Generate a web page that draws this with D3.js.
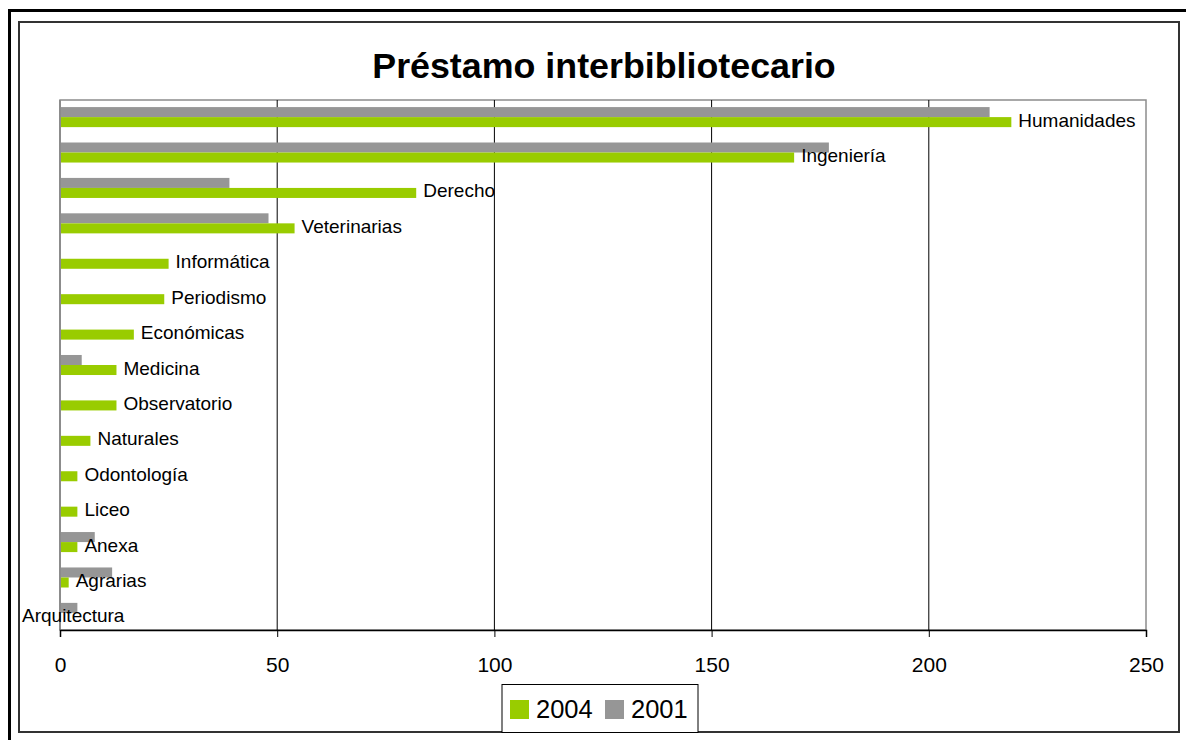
<!DOCTYPE html>
<html>
<head>
<meta charset="utf-8">
<script src="https://cdn.jsdelivr.net/npm/d3@7"></script>
<style>
  body { margin: 0; background: #fff; }
  svg text { font-family: "Liberation Sans", Arial, sans-serif; }
</style>
</head>
<body>
<div id="chart"></div>
<script>
// values
const categories = ["Humanidades", "Ingeniería", "Derecho", "Veterinarias", "Informática", "Periodismo",
  "Económicas", "Medicina", "Observatorio", "Naturales", "Odontología", "Liceo", "Anexa", "Agrarias", "Arquitectura"];
const values2004 = [219, 169, 82, 54, 25, 24, 17, 13, 13, 7, 4, 4, 4, 2, 0];
const values2001 = [214, 177, 39, 48, 0, 0, 0, 5, 0, 0, 0, 0, 8, 12, 4];
const xTicks = [0, 50, 100, 150, 200, 250];
const seriesNames = ["2004", "2001"];

const W = 1186, H = 740;
var margin = {top: 100, right: 40, bottom: 110, left: 60},
    width = W - margin.left - margin.right,
    height = H - margin.top - margin.bottom;

var svg = d3.select("#chart").append("svg")
  .attr("width", W)
  .attr("height", H);

// outer frames
svg.append("rect").attr("x", 9.5).attr("y", 10.5).attr("width", 1190).attr("height", 740)
  .attr("fill", "none").attr("stroke", "#000").attr("stroke-width", 3);
svg.append("rect").attr("x", 19).attr("y", 22).attr("width", 1160).attr("height", 710)
  .attr("fill", "none").attr("stroke", "#333").attr("stroke-width", 2);

// title
svg.append("text")
  .attr("x", 604)
  .attr("y", 77.5)
  .attr("text-anchor", "middle")
  .style("font-size", "35.8px")
  .style("font-weight", "bold")
  .text("Préstamo interbibliotecario");

var g = svg.append("g")
  .attr("transform", "translate(" + margin.left + "," + margin.top + ")");

var x = d3.scaleLinear().domain([0, 250]).range([0, width]);

var y0 = d3.scaleBand().domain(categories).range([0, height])
  .paddingInner(0.434).paddingOuter(0.2);
var y1 = d3.scaleBand().domain(["2001", "2004"]).range([0, y0.bandwidth()]);

var color = {"2004": "#99cc00", "2001": "#969696"};

// plot frame (gray)
g.append("rect").attr("x", 0).attr("y", 0).attr("width", width).attr("height", height)
  .attr("fill", "none").attr("stroke", "#8c8c8c").attr("stroke-width", 1.5);

// gridlines
g.selectAll(".grid").data(xTicks.slice(1, -1)).enter().append("line")
  .attr("x1", d => x(d)).attr("x2", d => x(d))
  .attr("y1", 0).attr("y2", height)
  .attr("stroke", "#000").attr("stroke-width", 1);

var rows = categories.map((c, i) => ({cat: c, v2004: values2004[i], v2001: values2001[i]}));

// bars
rows.forEach(function(r) {
  g.append("rect")
    .attr("x", x(0)).attr("y", y0(r.cat) + y1("2001"))
    .attr("width", x(r.v2001) - x(0)).attr("height", y1.bandwidth())
    .attr("fill", color["2001"]);
  g.append("rect")
    .attr("x", x(0)).attr("y", y0(r.cat) + y1("2004"))
    .attr("width", x(r.v2004) - x(0)).attr("height", y1.bandwidth())
    .attr("fill", color["2004"]);
});

// left axis line (gray)
g.append("line").attr("x1", 0).attr("x2", 0).attr("y1", 0).attr("y2", height)
  .attr("stroke", "#8c8c8c").attr("stroke-width", 2);

// category labels after the 2004 bar
g.selectAll(".lbl").data(rows).enter().append("text")
  .attr("x", d => d.v2004 > 0 ? x(d.v2004) + 7 : x(0) - 38)
  .attr("y", d => y0(d.cat) + y1("2004") + y1.bandwidth() - 0.5)
  .style("font-size", "19px")
  .attr("fill", "#000")
  .text(d => d.cat);

// bottom axis
var xAxis = g.append("g")
  .attr("transform", "translate(0," + height + ")")
  .call(d3.axisBottom(x).tickValues(xTicks).tickSize(7).tickPadding(20));
xAxis.select(".domain").attr("stroke", "#000").attr("stroke-width", 1.5);
xAxis.selectAll(".tick line").attr("stroke", "#000");
xAxis.selectAll(".tick text")
  .style("font-size", "21px")
  .style("font-family", "'Liberation Sans', Arial, sans-serif")
  .attr("fill", "#000");

// legend
var legend = svg.append("g").attr("transform", "translate(502,684.5)");
legend.append("rect").attr("width", 196).attr("height", 48)
  .attr("fill", "#fff").attr("stroke", "#000").attr("stroke-width", 1);
var items = [{name: "2004", sx: 8, tx: 34}, {name: "2001", sx: 103, tx: 129}];
items.forEach(function(it) {
  legend.append("rect").attr("x", it.sx).attr("y", 15.5).attr("width", 19).attr("height", 19)
    .attr("fill", color[it.name]);
  legend.append("text").attr("x", it.tx).attr("y", 33.5)
    .style("font-size", "25.5px")
    .text(it.name);
});
</script>
</body>
</html>
